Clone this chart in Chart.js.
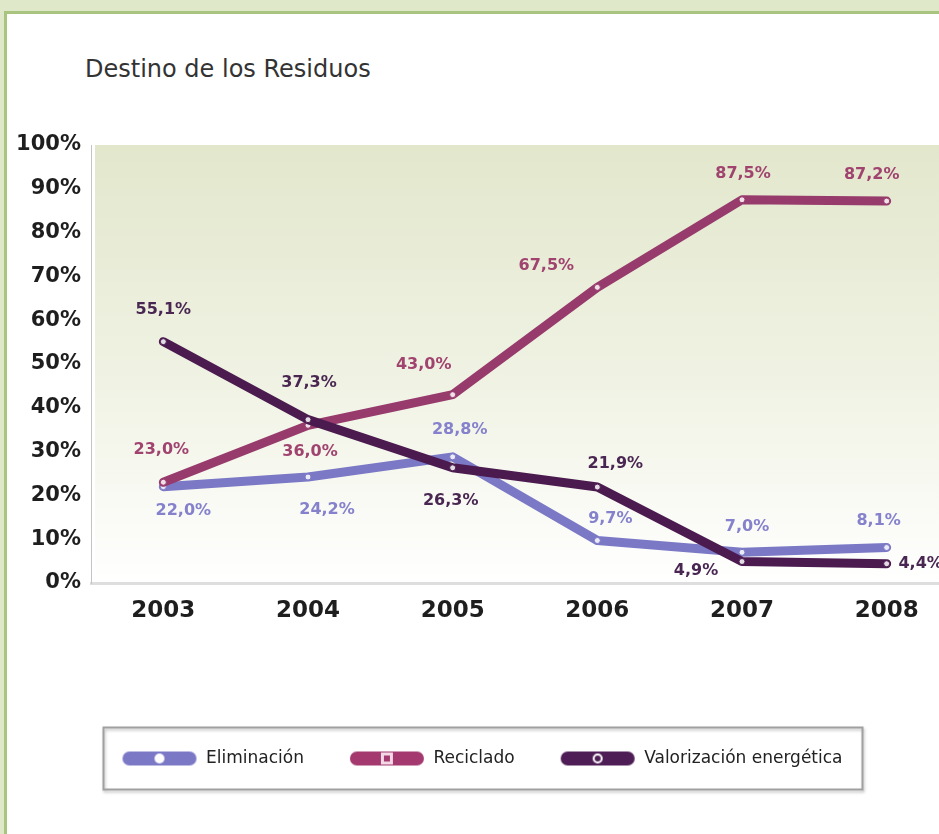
<!DOCTYPE html>
<html>
<head>
<meta charset="utf-8">
<script src="https://cdn.jsdelivr.net/npm/chart.js@4.4.0/dist/chart.umd.min.js"></script>
<style>
html, body { margin: 0; padding: 0; width: 939px; height: 834px; overflow: hidden; background: #dfe8c9; }
#panel { position: absolute; left: 4px; top: 11px; width: 1000px; height: 900px; background: #fff; border: 3px solid #a9c47e; }
#title { position: absolute; left: 85px; top: 55px; font: 24px "DejaVu Sans"; color: #333; }
#wrap { position: absolute; left: 0; top: 0; width: 964px; height: 834px; }
</style>
</head>
<body>
<div id="panel"></div>
<div id="title">Destino de los Residuos</div>
<div id="wrap"><canvas id="chart"></canvas></div>
<script>
// datos
const years = ["2003", "2004", "2005", "2006", "2007", "2008"];
const eliminacion = [22.0, 24.2, 28.8, 9.7, 7.0, 8.1];
const reciclado = [23.0, 36.0, 43.0, 67.5, 87.5, 87.2];
const valorizacion = [55.1, 37.3, 26.3, 21.9, 4.9, 4.4];
const yTicks = [0, 10, 20, 30, 40, 50, 60, 70, 80, 90, 100];

const fmt = v => v.toFixed(1).replace(".", ",") + "%";

// icono de leyenda: pastilla con marca central
function legendIcon(color, mark) {
    const c = document.createElement("canvas");
    c.width = 76; c.height = 16;
    const g = c.getContext("2d");
    g.fillStyle = color;
    g.beginPath();
    g.moveTo(8, 1); g.lineTo(68, 1);
    g.arc(68, 8, 7, -Math.PI / 2, Math.PI / 2);
    g.lineTo(8, 15);
    g.arc(8, 8, 7, Math.PI / 2, Math.PI * 1.5);
    g.fill();
    g.fillStyle = "#fff"; g.strokeStyle = "#fff";
    if (mark === "dot") {
        g.beginPath(); g.arc(38, 8, 5, 0, Math.PI * 2); g.fill();
    } else if (mark === "square") {
        g.fillStyle = "#f3d8e6"; g.fillRect(32, 2, 12, 12);
        g.fillStyle = color; g.fillRect(35, 5, 6, 6);
    } else {
        g.lineWidth = 2;
        g.beginPath(); g.arc(38, 8, 4, 0, Math.PI * 2); g.stroke();
    }
    return c;
}

const plotBg = {
    id: "plotBg",
    beforeDraw(chart) {
        const { ctx, chartArea: a } = chart;
        const grad = ctx.createLinearGradient(0, a.top, 0, a.bottom);
        grad.addColorStop(0, "#e2e7cc");
        grad.addColorStop(0.55, "#f0f3e4");
        grad.addColorStop(1, "#ffffff");
        ctx.save();
        ctx.fillStyle = grad;
        ctx.fillRect(a.left + 4, a.top, a.right - a.left, a.bottom - a.top);
        ctx.restore();
    }
};

const pointLabels = {
    id: "pointLabels",
    afterDatasetsDraw(chart) {
        const ctx = chart.ctx;
        chart.data.datasets.forEach((ds, i) => {
            const meta = chart.getDatasetMeta(i);
            ctx.save();
            ctx.font = "bold 16px 'DejaVu Sans'";
            ctx.fillStyle = ds.labelColor;
            ctx.textAlign = "center";
            ctx.textBaseline = "middle";
            meta.data.forEach((pt, j) => {
                const off = ds.labelOffsets[j];
                ctx.fillText(fmt(ds.data[j]), pt.x + off[0], pt.y + off[1]);
            });
            ctx.restore();
        });
    }
};

const legendFrame = {
    id: "legendFrame",
    afterDraw(chart) {
        const hb = chart.legend.legendHitBoxes;
        if (!hb || !hb.length) return;
        const last = hb[hb.length - 1];
        const x0 = hb[0].left - 18, x1 = last.left + last.width + 20;
        const cy = hb[0].top + hb[0].height / 2;
        const ctx = chart.ctx;
        ctx.save();
        ctx.shadowColor = "rgba(0,0,0,0.25)";
        ctx.shadowBlur = 3;
        ctx.shadowOffsetX = 1;
        ctx.shadowOffsetY = 2;
        ctx.strokeStyle = "#a0a0a0";
        ctx.lineWidth = 2;
        ctx.strokeRect(x0, cy - 31, x1 - x0, 62);
        ctx.restore();
    }
};

new Chart(document.getElementById("chart"), {
    type: "line",
    data: {
        labels: years,
        datasets: [
            {
                label: "Eliminación",
                data: eliminacion,
                borderColor: "#7b78c6",
                labelColor: "#8581cc",
                legendIcon: legendIcon("#7b78c6", "dot"),
                labelOffsets: [[20, 24], [19, 33], [7, -27], [13, -22], [5, -25], [-8, -27]],
                order: 3
            },
            {
                label: "Reciclado",
                data: reciclado,
                borderColor: "#973a6c",
                labelColor: "#a0436f",
                legendIcon: legendIcon("#a3396f", "square"),
                labelOffsets: [[-2, -32], [2, 27], [-29, -30], [-51, -22], [1, -26], [-15, -26]],
                order: 2
            },
            {
                label: "Valorización energética",
                data: valorizacion,
                borderColor: "#4b1a4f",
                labelColor: "#4a2752",
                legendIcon: legendIcon("#4f1d55", "ring"),
                labelOffsets: [[0, -32], [1, -37], [-2, 33], [18, -23], [-46, 9], [34, 0]],
                order: 1
            }
        ].map(ds => Object.assign(ds, {
            borderWidth: 9,
            borderCapStyle: "round",
            borderJoinStyle: "round",
            tension: 0,
            pointRadius: 3,
            pointBorderWidth: 1,
            pointBackgroundColor: "rgba(255,255,255,0.85)",
            pointBorderColor: ds.borderColor,
            fill: false
        }))
    },
    options: {
        responsive: true,
        maintainAspectRatio: false,
        animation: false,
        layout: { padding: { top: 145, left: 0, right: 0, bottom: 57 } },
        scales: {
            x: {
                offset: true,
                grid: { display: false, drawTicks: false },
                border: { color: "#dedede", width: 3 },
                ticks: { padding: 14, color: "#1e1e1e", font: { family: "DejaVu Sans", size: 23, weight: "bold" } },
                afterFit(scale) { scale.height = 122; }
            },
            y: {
                min: 0,
                max: 100,
                afterBuildTicks(scale) { scale.ticks = yTicks.map(v => ({ value: v })); },
                grid: { display: false, drawTicks: false },
                border: { color: "#c4c4c4", width: 1, dash: [2, 3] },
                ticks: {
                    padding: 10,
                    color: "#1e1e1e",
                    font: { family: "DejaVu Sans", size: 21, weight: "bold" },
                    callback: v => v + "%"
                },
                afterFit(scale) { scale.width = 91; }
            }
        },
        plugins: {
            tooltip: { enabled: false },
            legend: {
                position: "bottom",
                labels: {
                    usePointStyle: true,
                    pointStyleWidth: 76,
                    boxHeight: 16,
                    padding: 45,
                    color: "#222",
                    font: { family: "DejaVu Sans", size: 17 },
                    generateLabels(chart) {
                        return chart.data.datasets.map((ds, i) => ({
                            text: ds.label,
                            pointStyle: ds.legendIcon,
                            fillStyle: ds.borderColor,
                            strokeStyle: ds.borderColor,
                            lineWidth: 0,
                            fontColor: "#222",
                            hidden: !chart.isDatasetVisible(i),
                            datasetIndex: i
                        }));
                    }
                }
            }
        }
    },
    plugins: [plotBg, pointLabels, legendFrame]
});
</script>
</body>
</html>
